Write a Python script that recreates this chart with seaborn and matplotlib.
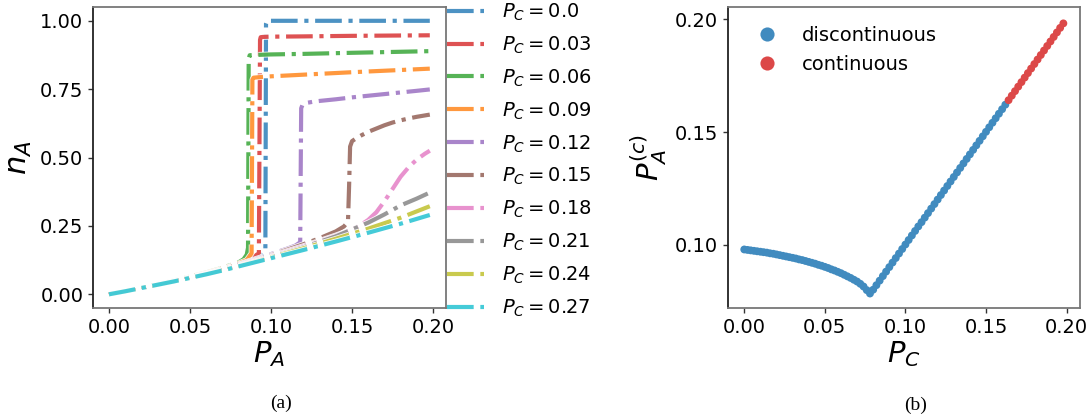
import matplotlib
matplotlib.use("Agg")
import matplotlib.pyplot as plt
import matplotlib.patheffects as pe
import seaborn as sns
import pandas as pd

# ---------------- data: panel (a) ----------------
pc_labels = ["0.0", "0.03", "0.06", "0.09", "0.12", "0.15", "0.18", "0.21", "0.24", "0.27"]

low_x = [0, 0.01, 0.02, 0.03, 0.04, 0.05, 0.06, 0.07, 0.08]

pa_000 = low_x + [0.085, 0.09, 0.094, 0.0965, 0.0969, 0.0975, 0.100, 0.120, 0.150, 0.198]
na_000 = [0, 0.011, 0.023, 0.036, 0.049, 0.063, 0.078, 0.094, 0.112,
          0.122, 0.134, 0.145, 0.158, 0.99, 1.0, 1.0, 1.0, 1.0, 1.0]

pa_003 = low_x + [0.085, 0.09, 0.0925, 0.0932, 0.0936, 0.095, 0.10, 0.12, 0.15, 0.198]
na_003 = [0, 0.011, 0.023, 0.036, 0.050, 0.064, 0.079, 0.096, 0.115,
          0.126, 0.140, 0.150, 0.93, 0.94, 0.941, 0.942, 0.943, 0.945, 0.947]

pa_006 = low_x + [0.083, 0.085, 0.0858, 0.0862, 0.0868, 0.09, 0.10, 0.12, 0.15, 0.198]
na_006 = [0, 0.011, 0.023, 0.036, 0.050, 0.065, 0.080, 0.097, 0.117,
          0.128, 0.145, 0.17, 0.86, 0.874, 0.875, 0.877, 0.879, 0.883, 0.889]

pa_009 = low_x + [0.085, 0.088, 0.0885, 0.0892, 0.095, 0.10, 0.12, 0.15, 0.198]
na_009 = [0, 0.011, 0.023, 0.036, 0.050, 0.064, 0.079, 0.095, 0.113,
          0.125, 0.150, 0.785, 0.792, 0.795, 0.797, 0.803, 0.812, 0.825]

pa_012 = low_x + [0.09, 0.10, 0.11, 0.115, 0.118, 0.1186, 0.1195, 0.122, 0.126, 0.13,
                  0.14, 0.15, 0.16, 0.17, 0.18, 0.19, 0.198]
na_012 = [0, 0.011, 0.023, 0.035, 0.049, 0.063, 0.077, 0.093, 0.110,
          0.128, 0.147, 0.167, 0.178, 0.19, 0.68, 0.694, 0.700, 0.704, 0.707,
          0.713, 0.72, 0.726, 0.732, 0.738, 0.744, 0.749]

pa_015 = low_x + [0.09, 0.10, 0.11, 0.12, 0.13, 0.14, 0.145, 0.1475, 0.1482, 0.1488, 0.150,
                  0.153, 0.156, 0.16, 0.165, 0.17, 0.175, 0.18, 0.185, 0.19, 0.198]
na_015 = [0, 0.011, 0.023, 0.035, 0.048, 0.062, 0.076, 0.092, 0.108,
          0.125, 0.143, 0.163, 0.183, 0.205, 0.23, 0.248, 0.265, 0.40, 0.54, 0.56,
          0.572, 0.582, 0.594, 0.606, 0.618, 0.628, 0.636, 0.643, 0.649, 0.657]

pa_018 = low_x + [0.09, 0.10, 0.11, 0.12, 0.13, 0.14, 0.15, 0.155, 0.16, 0.165, 0.17,
                  0.175, 0.18, 0.185, 0.19, 0.195, 0.198]
na_018 = [0, 0.011, 0.023, 0.035, 0.048, 0.061, 0.075, 0.090, 0.106,
          0.123, 0.140, 0.158, 0.176, 0.195, 0.215, 0.237, 0.252, 0.272, 0.300, 0.340,
          0.385, 0.43, 0.465, 0.493, 0.514, 0.525]

pa_021 = low_x + [0.09, 0.10, 0.12, 0.14, 0.16, 0.17, 0.18, 0.19, 0.198]
na_021 = [0, 0.011, 0.023, 0.035, 0.047, 0.060, 0.074, 0.089, 0.104,
          0.120, 0.137, 0.172, 0.212, 0.262, 0.292, 0.325, 0.350, 0.372]

pa_024 = low_x + [0.09, 0.10, 0.12, 0.14, 0.16, 0.18, 0.198]
na_024 = [0, 0.011, 0.023, 0.035, 0.047, 0.060, 0.073, 0.088, 0.103,
          0.119, 0.135, 0.168, 0.203, 0.240, 0.280, 0.322]

pa_027 = low_x + [0.09, 0.10, 0.12, 0.14, 0.16, 0.18, 0.198]
na_027 = [0, 0.011, 0.023, 0.035, 0.047, 0.060, 0.073, 0.087, 0.102,
          0.117, 0.132, 0.162, 0.193, 0.225, 0.258, 0.290]

series_x = [pa_000, pa_003, pa_006, pa_009, pa_012, pa_015, pa_018, pa_021, pa_024, pa_027]
series_y = [na_000, na_003, na_006, na_009, na_012, na_015, na_018, na_021, na_024, na_027]

colors_a = ['#1f77b4', '#d62728', '#2ca02c', '#ff7f0e', '#9467bd',
            '#8c564b', '#e377c2', '#7f7f7f', '#bcbd22', '#17becf']

# ---------------- data: panel (b) ----------------
pc_b = [0.000, 0.002, 0.004, 0.006, 0.008, 0.010, 0.012, 0.014, 0.016, 0.018,
        0.020, 0.022, 0.024, 0.026, 0.028, 0.030, 0.032, 0.034, 0.036, 0.038,
        0.040, 0.042, 0.044, 0.046, 0.048, 0.050, 0.052, 0.054, 0.056, 0.058,
        0.060, 0.062, 0.064, 0.066, 0.068, 0.070, 0.072, 0.074, 0.076, 0.078,
        0.080, 0.082, 0.084, 0.086, 0.088, 0.090, 0.092, 0.094, 0.096, 0.098,
        0.100, 0.102, 0.104, 0.106, 0.108, 0.110, 0.112, 0.114, 0.116, 0.118,
        0.120, 0.122, 0.124, 0.126, 0.128, 0.130, 0.132, 0.134, 0.136, 0.138,
        0.140, 0.142, 0.144, 0.146, 0.148, 0.150, 0.152, 0.154, 0.156, 0.158,
        0.160, 0.162, 0.164, 0.166, 0.168, 0.170, 0.172, 0.174, 0.176, 0.178,
        0.180, 0.182, 0.184, 0.186, 0.188, 0.190, 0.192, 0.194, 0.196, 0.198]
pac_b = [0.0980, 0.0978, 0.0976, 0.0974, 0.0972, 0.0970, 0.0968, 0.0966, 0.0963, 0.0961,
         0.0958, 0.0955, 0.0952, 0.0949, 0.0946, 0.0943, 0.0940, 0.0936, 0.0933, 0.0929,
         0.0925, 0.0921, 0.0917, 0.0912, 0.0908, 0.0903, 0.0898, 0.0892, 0.0887, 0.0881,
         0.0875, 0.0868, 0.0861, 0.0854, 0.0846, 0.0838, 0.0828, 0.0816, 0.0800, 0.0785,
         0.0802, 0.0822, 0.0842, 0.0862, 0.0882, 0.0902, 0.0922, 0.0942, 0.0962, 0.0982,
         0.1002, 0.1022, 0.1042, 0.1062, 0.1082, 0.1101, 0.1121, 0.1141, 0.1161, 0.1181,
         0.1201, 0.1221, 0.1241, 0.1261, 0.1281, 0.1301, 0.1321, 0.1341, 0.1361, 0.1381,
         0.1401, 0.1421, 0.1441, 0.1461, 0.1481, 0.1501, 0.1521, 0.1541, 0.1561, 0.1581,
         0.1601, 0.1621, 0.1641, 0.1661, 0.1681, 0.1701, 0.1721, 0.1741, 0.1761, 0.1781,
         0.1801, 0.1821, 0.1841, 0.1861, 0.1881, 0.1901, 0.1921, 0.1941, 0.1961, 0.1981]
transition_pc = 0.163
phase_names = ["discontinuous", "continuous"]
phase_colors = ['#418bbf', '#dc4848']

# ---------------- style ----------------
sns.set_theme(style="ticks")
plt.rcParams['font.family'] = ['DejaVu Sans']
plt.rcParams['mathtext.fontset'] = 'dejavusans'
plt.rcParams['text.color'] = 'black'
plt.rcParams['axes.labelcolor'] = 'black'
plt.rcParams['xtick.color'] = 'black'
plt.rcParams['ytick.color'] = 'black'

fig = plt.figure(figsize=(10.89, 4.19), dpi=100)
ax1 = fig.add_axes([0.0854, 0.265, 0.324, 0.718])
ax2 = fig.add_axes([0.6685, 0.265, 0.3232, 0.718])

# panel (a)
rows = []
for lab, xs, ys in zip(pc_labels, series_x, series_y):
    for i, (x, y) in enumerate(zip(xs, ys)):
        rows.append({"PA": x, "nA": y, "PC": r"$P_C = $" + lab, "order": i})
df_a = pd.DataFrame(rows)
hue_order = [r"$P_C = $" + l for l in pc_labels]

sns.lineplot(data=df_a, x="PA", y="nA", hue="PC", hue_order=hue_order,
             palette=colors_a, estimator=None, sort=False, units="PC",
             lw=3, alpha=0.8, ax=ax1, legend=True)
for ln in ax1.get_lines():
    ln.set_linestyle('-.')
    ln.set_path_effects([pe.Stroke(linewidth=4.2, foreground='white', alpha=0.9), pe.Normal()])

ax1.set_xlim(-0.0099, 0.2079)
ax1.set_ylim(-0.05, 1.05)
ax1.set_xticks([0.0, 0.05, 0.10, 0.15, 0.20])
ax1.set_xticklabels(["0.00", "0.05", "0.10", "0.15", "0.20"])
ax1.set_yticks([0.0, 0.25, 0.5, 0.75, 1.0])
ax1.set_yticklabels(["0.00", "0.25", "0.50", "0.75", "1.00"])
ax1.set_xlabel(r"$P_A$", fontsize=21, labelpad=2)
ax1.set_ylabel(r"$n_A$", fontsize=22, labelpad=4)

handles, labels = ax1.get_legend_handles_labels()
for h in handles:
    h.set_linestyle('-.')
    h.set_linewidth(3)
    h.set_alpha(0.8)
ax1.legend(handles, labels, loc='upper left', bbox_to_anchor=(0.98, 1.045),
           borderaxespad=0, frameon=False, fontsize=14, handlelength=1.95,
           handletextpad=0.9, labelspacing=0.6)

# panel (b)
phase = [phase_names[1] if p >= transition_pc else phase_names[0] for p in pc_b]
df_b = pd.DataFrame({"PC": pc_b, "PAc": pac_b, "phase": phase})
sns.scatterplot(data=df_b, x="PC", y="PAc", hue="phase", hue_order=phase_names,
                palette=phase_colors, s=32, linewidth=0, ax=ax2)
ax2.set_xlim(-0.0101, 0.2083)
ax2.set_ylim(0.0721, 0.2053)
ax2.set_xticks([0.0, 0.05, 0.10, 0.15, 0.20])
ax2.set_xticklabels(["0.00", "0.05", "0.10", "0.15", "0.20"])
ax2.set_yticks([0.10, 0.15, 0.20])
ax2.set_yticklabels(["0.10", "0.15", "0.20"])
ax2.set_xlabel(r"$P_C$", fontsize=21, labelpad=2)
ax2.set_ylabel(r"$P_A^{(c)}$", fontsize=21, labelpad=4)
ax2.legend(loc='upper left', frameon=False, fontsize=14, markerscale=1.8,
           bbox_to_anchor=(0.005, 0.995))

for ax in (ax1, ax2):
    ax.tick_params(labelsize=14, length=3.5, width=1, color='#333333')
    for side in ("top", "right", "bottom"):
        ax.spines[side].set_visible(True)
        ax.spines[side].set_color('#777777')
        ax.spines[side].set_linewidth(1.3)
    ax.spines["left"].set_color('#222222')
    ax.spines["left"].set_linewidth(1.3)

fig.text(0.258, 0.038, "(a)", ha='center', va='center', fontsize=14,
         family='Liberation Serif', color='black')
fig.text(0.841, 0.033, "(b)", ha='center', va='center', fontsize=14,
         family='Liberation Serif', color='black')

fig.savefig("out.png", dpi=100)
